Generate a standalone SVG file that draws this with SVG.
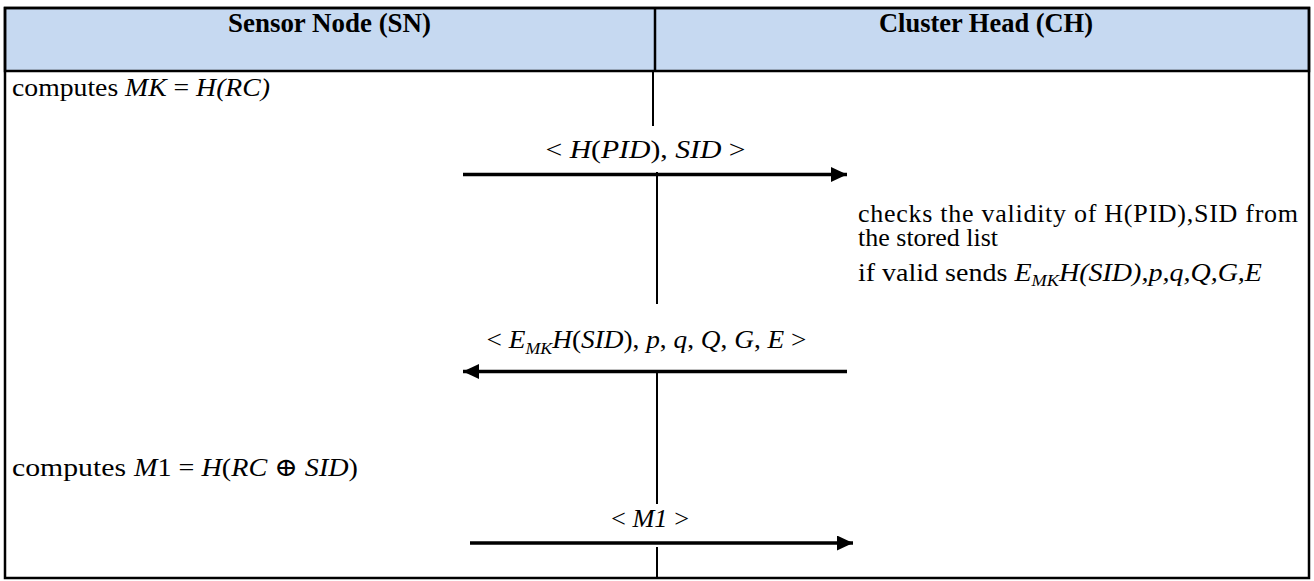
<svg xmlns="http://www.w3.org/2000/svg" width="1314" height="581" viewBox="0 0 1314 581">
<style>
.t{font-family:"Liberation Serif","Times New Roman",serif;font-size:26px;fill:#000}
.h{font-family:"Liberation Serif","Times New Roman",serif;font-size:27px;font-weight:bold;fill:#000}
.m{font-family:"Liberation Serif","DejaVu Serif",serif;font-size:26px;fill:#000}
.i{font-style:italic}
.life{stroke:#000;stroke-width:2;fill:none}
.msg{stroke:#000;stroke-width:3.5;fill:none}
</style>
<defs>
<marker id="ah" markerUnits="userSpaceOnUse" markerWidth="17" markerHeight="16" refX="16" refY="7.5" orient="auto">
<path d="M0,0 L16,7.5 L0,15 Z" fill="#000"/>
</marker>
</defs>
<rect x="0" y="0" width="1314" height="581" fill="#fff"/>
<g id="header">
<rect x="5" y="8" width="1304" height="63" fill="#C6D9F1" stroke="#000" stroke-width="2.5"/>
<line x1="655" y1="8" x2="655" y2="71" stroke="#000" stroke-width="2.5"/>
</g>
<rect id="frame" x="5" y="8" width="1304" height="570" fill="none" stroke="#000" stroke-width="2.5"/>
<g id="sn-head"><text class="h" x="329.5" y="32" text-anchor="middle" textLength="203" lengthAdjust="spacingAndGlyphs">Sensor Node (SN)</text></g>
<g id="ch-head"><text class="h" x="986" y="32" text-anchor="middle" textLength="214" lengthAdjust="spacingAndGlyphs">Cluster Head (CH)</text></g>
<g id="sn-compute-mk"><text class="t" x="12" y="96" textLength="258" lengthAdjust="spacingAndGlyphs">computes <tspan class="i">MK</tspan> = <tspan class="i">H(RC)</tspan></text></g>
<g id="ch-check">
<text class="t" x="858" y="222" textLength="440" lengthAdjust="spacing">checks the validity of H(PID),SID from</text>
<text class="t" x="858" y="246">the stored list</text>
<text class="t" x="858" y="281" textLength="404" lengthAdjust="spacingAndGlyphs">if valid sends <tspan class="i">E</tspan><tspan class="i" font-size="17" dy="5">MK</tspan><tspan class="i" dy="-5">H(SID),p,q,Q,G,E</tspan></text>
</g>
<g id="sn-compute-m1">
<text class="t" x="12" y="476" textLength="114" lengthAdjust="spacingAndGlyphs">computes</text>
<text class="m" x="134" y="476" font-size="27" textLength="224" lengthAdjust="spacingAndGlyphs"><tspan class="i">M</tspan>1 = <tspan class="i">H</tspan>(<tspan class="i">RC</tspan> ⊕ <tspan class="i">SID</tspan>)</text>
</g>
<g id="connectors">
<line class="life" x1="653" y1="72" x2="653" y2="126"/>
<line class="life" x1="657" y1="172" x2="657" y2="304"/>
<line class="life" x1="657" y1="372" x2="657" y2="504"/>
<line class="life" x1="657" y1="547" x2="657" y2="578"/>
<line class="msg" x1="463" y1="174.5" x2="847" y2="174.5" marker-end="url(#ah)"/>
<line class="msg" x1="847" y1="371.5" x2="463" y2="371.5" marker-end="url(#ah)"/>
<line class="msg" x1="470" y1="543" x2="853" y2="543" stroke-width="4.5" marker-end="url(#ah)"/>
<text class="m" x="645.5" y="158" text-anchor="middle" textLength="200" lengthAdjust="spacingAndGlyphs">&lt; <tspan class="i">H</tspan>(<tspan class="i">PID</tspan>), <tspan class="i">SID</tspan> &gt;</text>
<text class="m" x="646.5" y="348" text-anchor="middle" textLength="320" lengthAdjust="spacingAndGlyphs">&lt; <tspan class="i">E</tspan><tspan class="i" font-size="17" dy="6">MK</tspan><tspan class="i" dy="-6">H</tspan>(<tspan class="i">SID</tspan>), <tspan class="i">p</tspan>, <tspan class="i">q</tspan>, <tspan class="i">Q</tspan>, <tspan class="i">G</tspan>, <tspan class="i">E</tspan> &gt;</text>
<text class="t" x="650" y="527" text-anchor="middle" font-size="22" textLength="78" lengthAdjust="spacingAndGlyphs">&lt; <tspan class="i">M1</tspan> &gt;</text>
</g>
</svg>
